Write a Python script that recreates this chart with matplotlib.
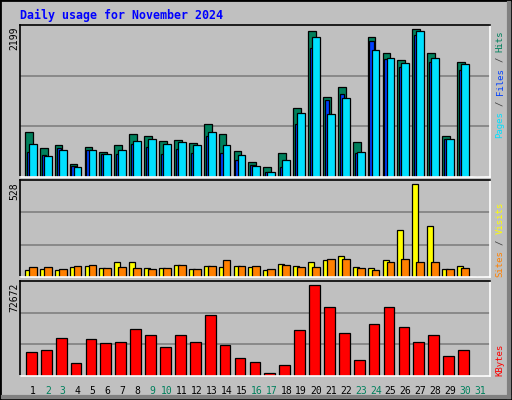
import numpy as np
import matplotlib
matplotlib.use("Agg")
import matplotlib.pyplot as plt
from matplotlib.patches import Rectangle

days = list(range(1, 32))
weekend = [2, 3, 9, 10, 16, 17, 23, 24, 30, 31]

hits = [646, 413, 457, 181, 428, 355, 457, 617, 588, 515, 530, 486, 763, 617, 370,
        210, 151, 341, 996, 2117, 1156, 1302, 501, 2030, 1797, 1695, 2146, 1797, 588, 1666, 0]
files = [360, 316, 413, 160, 384, 326, 326, 472, 428, 326, 399, 341, 588, 341, 239,
         170, 79, 151, 763, 1870, 1112, 1200, 341, 1971, 1709, 1593, 2059, 1666, 545, 1549, 0]
pages = [472, 297, 384, 151, 384, 326, 384, 515, 545, 472, 501, 457, 646, 457, 312,
         156, 79, 253, 923, 2030, 909, 1142, 355, 1840, 1724, 1651, 2117, 1724, 545, 1637, 0]
visits = [40, 46, 40, 57, 62, 51, 84, 84, 51, 51, 68, 46, 62, 57, 62,
          57, 40, 73, 62, 79, 95, 117, 57, 51, 90, 254, 506, 276, 46, 62, 0]
sites = [57, 57, 46, 62, 68, 51, 57, 51, 46, 51, 68, 46, 62, 95, 62,
         62, 46, 68, 57, 57, 100, 100, 51, 40, 79, 100, 79, 84, 46, 51, 0]
kbytes = [18615, 20145, 29325, 10200, 28560, 25500, 26265, 36210, 31620, 22440, 31620,
          26265, 46920, 23970, 14025, 10965, 2550, 8670, 35445, 69870, 53040, 33150,
          12495, 40035, 53040, 37740, 26265, 31620, 15555, 20145, 0]
max_hits, max_visits, max_kb = 2199, 528, 72672

BG = "#c0c0c0"
C_HITS, C_FILES, C_PAGES = "#00805c", "#0040ff", "#00e0ff"
C_VISITS, C_SITES, C_KB = "#ffff00", "#ff8000", "#ff0000"
C_GREEN = "#00805c"
W, H = 512, 400
MONO = "DejaVu Sans Mono"

fig = plt.figure(figsize=(W / 100, H / 100), dpi=100)
fig.patch.set_facecolor(BG)


def px_axes(x0, y0, x1, y1):
    ax = fig.add_axes([x0 / W, 1 - y1 / H, (x1 - x0) / W, (y1 - y0) / H])
    ax.set_facecolor(BG)
    ax.set_xlim(0.128, 31.67)
    ax.set_xticks([])
    ax.set_yticks([])
    for s in ("top", "left"):
        ax.spines[s].set_color("black")
    for s in ("bottom", "right"):
        ax.spines[s].set_color("white")
    for s in ax.spines.values():
        s.set_linewidth(1.2)
    return ax


def grid(ax, top, n):
    for k in range(1, n):
        ax.axhline(top * k / n, color="#808080", lw=1.2, zorder=0)


d = np.array(days)
bk = dict(edgecolor="black", linewidth=0.9, align="edge")

ax1 = px_axes(20, 25, 490, 177)
ax1.set_ylim(0, max_hits)
grid(ax1, max_hits, 3)
ax1.bar(d - 0.54, hits, 0.52, color=C_HITS, **bk)
ax1.bar(d - 0.42, files, 0.3, color=C_FILES, **bk)
ax1.bar(d - 0.27, pages, 0.52, color=C_PAGES, **bk)

ax2 = px_axes(20, 180, 490, 277)
ax2.set_ylim(0, max_visits)
grid(ax2, max_visits, 3)
ax2.bar(d - 0.54, visits, 0.40, color=C_VISITS, **bk)
ax2.bar(d - 0.27, sites, 0.52, color=C_SITES, **bk)

ax3 = px_axes(20, 281, 490, 376)
ax3.set_ylim(0, max_kb)
grid(ax3, max_kb, 3)
ax3.bar(d - 0.47, kbytes, 0.72, color=C_KB, **bk)

for day in days:
    ax3.text(day, -0.1, str(day), transform=ax3.get_xaxis_transform(),
             ha="center", va="top", fontsize=7, family=MONO,
             color=C_GREEN if day in weekend else "black")

fig.text(20 / W, 1 - 15 / H, "Daily usage for November 2024", color="#0000ff",
         fontsize=8.4, family=MONO, weight="bold", va="center")

for label, ytop in ((str(max_hits), 27), (str(max_visits), 182), (str(max_kb), 283)):
    fig.text(14 / W, 1 - ytop / H, label, rotation=90, ha="center", va="top",
             fontsize=7, family=MONO)


def side(parts, ybottom, cw=5.4):
    # parts drawn bottom-to-top, one word at a time, with a gap between words
    y = ybottom
    for txt, col in parts:
        fig.text(500 / W, 1 - y / H, txt, rotation=90, ha="center", va="bottom",
                 fontsize=6.5, family=MONO, color=col)
        y -= cw * (len(txt) + 1)


side([("Pages", C_PAGES), ("/", "#404040"), ("Files", C_FILES), ("/", "#404040"),
      ("Hits", C_HITS)], 138)
side([("Sites", C_SITES), ("/", "#404040"), ("Visits", C_VISITS)], 277)
side([("KBytes", C_KB)], 376)

# outer frame
fig.add_artist(Rectangle((0, 0), 1, 1, transform=fig.transFigure, fill=False,
                         edgecolor="black", lw=2))
fig.add_artist(plt.Line2D([3 / W, 1 - 3 / W], [3 / H, 3 / H], color="#808080", lw=3,
                          transform=fig.transFigure))
fig.add_artist(plt.Line2D([1 - 3 / W, 1 - 3 / W], [3 / H, 1 - 3 / H], color="#808080",
                          lw=3, transform=fig.transFigure))

fig.savefig("out.png", dpi=100, facecolor=BG)
